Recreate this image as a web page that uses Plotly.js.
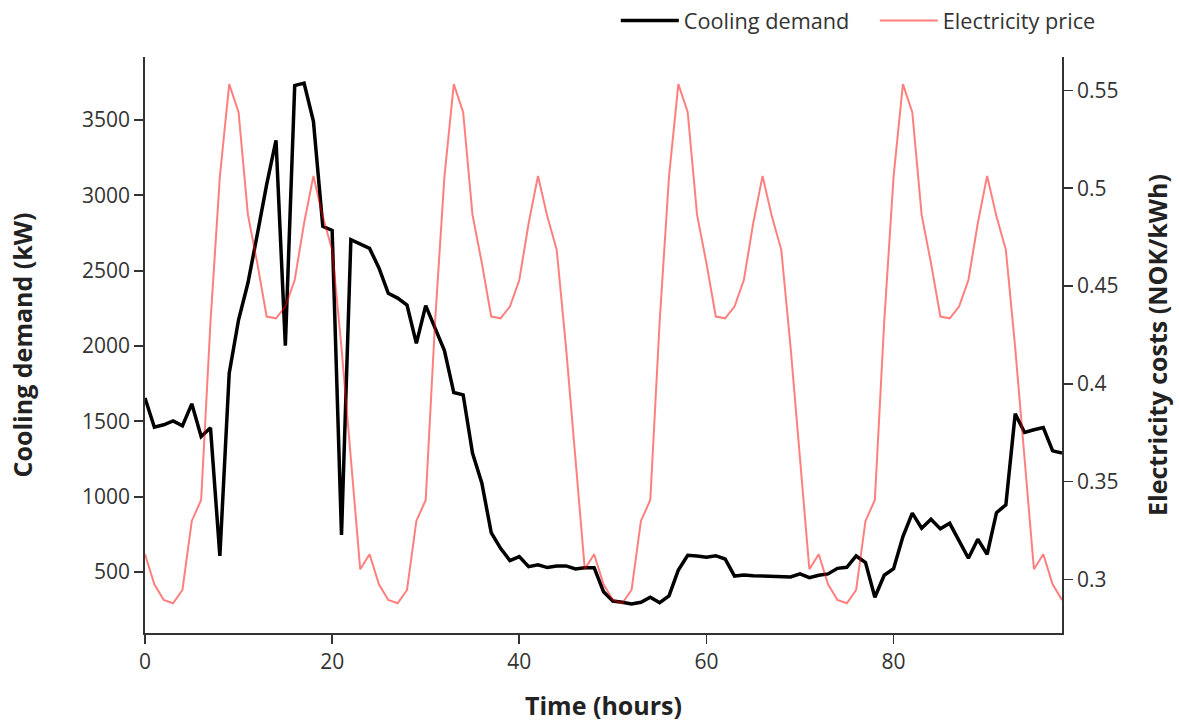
<!DOCTYPE html>
<html>
<head>
<meta charset="utf-8">
<script src="https://cdn.plot.ly/plotly-3.0.1.min.js"></script>
<style>html,body{margin:0;padding:0;background:#fff;}#chart{width:1179px;height:722px;}</style>
</head>
<body>
<div id="chart"></div>
<script>
const hours = [
  0, 1, 2, 3, 4, 5, 6, 7, 8, 9,
  10, 11, 12, 13, 14, 15, 16, 17, 18, 19,
  20, 21, 22, 23, 24, 25, 26, 27, 28, 29,
  30, 31, 32, 33, 34, 35, 36, 37, 38, 39,
  40, 41, 42, 43, 44, 45, 46, 47, 48, 49,
  50, 51, 52, 53, 54, 55, 56, 57, 58, 59,
  60, 61, 62, 63, 64, 65, 66, 67, 68, 69,
  70, 71, 72, 73, 74, 75, 76, 77, 78, 79,
  80, 81, 82, 83, 84, 85, 86, 87, 88, 89,
  90, 91, 92, 93, 94, 95, 96, 97, 98
];

const coolingDemand = [
  1654, 1461, 1477, 1503, 1470, 1616, 1399, 1457, 606, 1820,
  2174, 2418, 2740, 3071, 3366, 2002, 3729, 3745, 3492, 2794,
  2768, 746, 2706, 2677, 2648, 2518, 2350, 2318, 2272, 2017,
  2268, 2119, 1970, 1691, 1676, 1289, 1089, 761, 657, 575,
  602, 535, 547, 529, 540, 540, 520, 528, 528, 369,
  307, 299, 287, 299, 332, 296, 341, 513, 611, 606,
  598, 608, 586, 473, 480, 475, 473, 471, 469, 467,
  487, 462, 478, 487, 524, 531, 606, 562, 332, 478,
  522, 735, 890, 790, 850, 786, 823, 706, 591, 717,
  617, 894, 945, 1550, 1426, 1444, 1459, 1304, 1289
];

const electricityPrice = [
  0.3129, 0.2975, 0.2895, 0.2878, 0.2946, 0.3299, 0.3406, 0.4317, 0.5059, 0.5532,
  0.5389, 0.4864, 0.4617, 0.4344, 0.4335, 0.4395, 0.4531, 0.4821, 0.5063, 0.4855,
  0.4685, 0.4184, 0.3618, 0.3052,
  0.3129, 0.2975, 0.2895, 0.2878, 0.2946, 0.3299, 0.3406, 0.4317, 0.5059, 0.5532,
  0.5389, 0.4864, 0.4617, 0.4344, 0.4335, 0.4395, 0.4531, 0.4821, 0.5063, 0.4855,
  0.4685, 0.4184, 0.3618, 0.3052,
  0.3129, 0.2975, 0.2895, 0.2878, 0.2946, 0.3299, 0.3406, 0.4317, 0.5059, 0.5532,
  0.5389, 0.4864, 0.4617, 0.4344, 0.4335, 0.4395, 0.4531, 0.4821, 0.5063, 0.4855,
  0.4685, 0.4184, 0.3618, 0.3052,
  0.3129, 0.2975, 0.2895, 0.2878, 0.2946, 0.3299, 0.3406, 0.4317, 0.5059, 0.5532,
  0.5389, 0.4864, 0.4617, 0.4344, 0.4335, 0.4395, 0.4531, 0.4821, 0.5063, 0.4855,
  0.4685, 0.4184, 0.3618, 0.3052,
  0.3129, 0.2975, 0.2895
];

const seriesNames = ["Cooling demand", "Electricity price"];
const xTicks = [0, 20, 40, 60, 80];
const yLeftTicks = [500, 1000, 1500, 2000, 2500, 3000, 3500];
const yRightTicks = [0.3, 0.35, 0.4, 0.45, 0.5, 0.55];
const yRightTickText = ["0.3", "0.35", "0.4", "0.45", "0.5", "0.55"];

const FONT = '"Open Sans", verdana, arial, sans-serif';
const axisColor = '#333';

const traces = [
  {
    x: hours, y: coolingDemand, name: seriesNames[0], type: 'scatter', mode: 'lines',
    line: {color: '#000000', width: 3.5}, yaxis: 'y'
  },
  {
    x: hours, y: electricityPrice, name: seriesNames[1], type: 'scatter', mode: 'lines',
    line: {color: 'rgba(255,0,0,0.5)', width: 2}, yaxis: 'y2'
  }
];

const baseAxis = {
  showline: true, linecolor: axisColor, linewidth: 1.75,
  ticks: 'outside', ticklen: 9, tickwidth: 1.75, tickcolor: axisColor,
  showgrid: false, zeroline: false,
  tickfont: {family: FONT, size: 21, color: '#333'}
};

const layout = {
  width: 1179, height: 722,
  paper_bgcolor: '#fff', plot_bgcolor: '#fff',
  font: {family: FONT, size: 21, color: '#333'},
  margin: {l: 145, r: 117, t: 57, b: 89, pad: 0, autoexpand: false},
  showlegend: true,
  legend: {
    orientation: 'h', xref: 'container', yref: 'container',
    x: 0.5223, xanchor: 'left', y: 1.0, yanchor: 'top',
    font: {family: FONT, size: 21.7, color: '#333'}, bgcolor: 'rgba(0,0,0,0)',
    itemwidth: 58, entrywidth: 186, entrywidthmode: 'pixels'
  },
  xaxis: Object.assign({}, baseAxis, {
    range: [0, 98], tickvals: xTicks,
    title: {text: '<b>Time (hours)</b>', font: {family: FONT, size: 25, color: '#222'}, standoff: 37}
  }),
  yaxis: Object.assign({}, baseAxis, {
    range: [94.7, 3918.6], tickvals: yLeftTicks,
    title: {text: '<b>Cooling demand (kW)</b>', font: {family: FONT, size: 25, color: '#222'}, standoff: 42}
  }),
  yaxis2: Object.assign({}, baseAxis, {
    range: [0.2726, 0.5671], tickvals: yRightTicks, ticktext: yRightTickText,
    overlaying: 'y', side: 'right',
    title: {text: '<b>Electricity costs (NOK/kWh)</b>', font: {family: FONT, size: 25, color: '#222'}, standoff: 32}
  })
};

Plotly.newPlot('chart', traces, layout, {displayModeBar: false, staticPlot: true});
</script>
</body>
</html>
